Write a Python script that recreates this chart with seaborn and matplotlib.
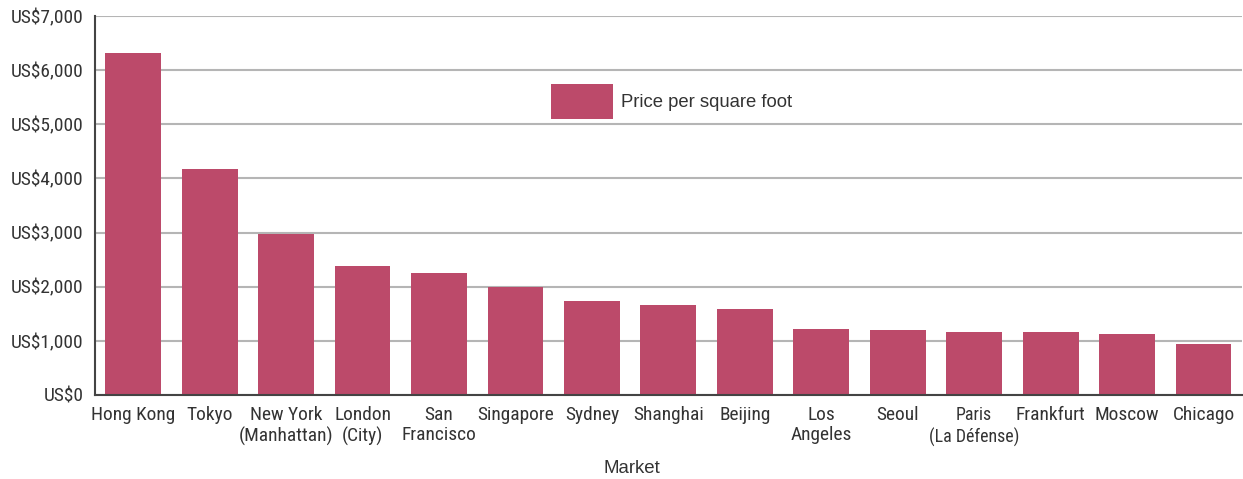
import matplotlib
matplotlib.use("Agg")
import matplotlib.pyplot as plt
import seaborn as sns
import pandas as pd
from matplotlib import font_manager as fm
from matplotlib.ticker import FixedLocator, FuncFormatter

markets = ["Hong Kong", "Tokyo", "New York\n(Manhattan)", "London\n(City)", "San\nFrancisco",
           "Singapore", "Sydney", "Shanghai", "Beijing", "Los\nAngeles", "Seoul",
           "Paris\n(La Défense)", "Frankfurt", "Moscow", "Chicago"]
prices = [6320, 4175, 2980, 2385, 2255, 1995, 1740, 1665, 1590, 1220, 1200, 1165, 1165, 1130, 945]
yticks = [0, 1000, 2000, 3000, 4000, 5000, 6000, 7000]
series_label = "Price per square foot"
xlabel = "Market"

bar_color = "#bc4a6a"
text_color = "#333333"

installed = {f.name for f in fm.fontManager.ttflist}
narrow_candidates = ["Nimbus Sans Narrow", "Liberation Sans Narrow", "Arial Narrow", "Roboto Condensed",
                     "Archivo Narrow", "PT Sans Narrow", "IBM Plex Sans Condensed", "Fira Sans Condensed",
                     "Pragati Narrow", "Open Sans Condensed", "Asap Condensed", "Encode Sans Condensed"]
narrow_name = next((n for n in narrow_candidates if n in installed), None)
narrow_stretch = "normal"
if narrow_name is None:
    narrow_name = "Open Sans" if "Open Sans" in installed else "DejaVu Sans"
    narrow_stretch = "condensed"
regular_candidates = ["Nimbus Sans", "Liberation Sans", "Arimo", "DejaVu Sans"]
regular_name = next((n for n in regular_candidates if n in installed), "DejaVu Sans")

sns.set_theme(style="white")
plt.rcParams["font.family"] = [regular_name, "DejaVu Sans"]

df = pd.DataFrame({"Market": markets, "Price": prices})

fig, ax = plt.subplots(figsize=(12.43, 4.79), dpi=100)
fig.subplots_adjust(left=0.0764, right=0.999, top=0.9666, bottom=0.1754)

# size the narrow font so "Hong Kong" spans about 84 px, close to the reference
renderer = fig.canvas.get_renderer()
probe = fig.text(0, 0, "Hong Kong", family=[narrow_name, "DejaVu Sans"], stretch=narrow_stretch, fontsize=14.5)
w = probe.get_window_extent(renderer).width
probe.remove()
tick_size = max(10.0, min(17.0, 14.5 * 84.0 / w))

sns.barplot(data=df, x="Market", y="Price", color=bar_color, saturation=1,
            width=0.73, ax=ax, linewidth=0)

ax.set_xlim(-0.5, len(markets) - 0.5)
ax.set_ylim(0, 7000)
ax.yaxis.set_major_locator(FixedLocator(yticks))
ax.yaxis.set_major_formatter(FuncFormatter(lambda v, p: f"US${int(v):,}"))
ax.grid(axis="y", color="#b5b5b5", linewidth=1.5)
ax.set_axisbelow(True)

for s in ["top", "right"]:
    ax.spines[s].set_visible(False)
for s in ["left", "bottom"]:
    ax.spines[s].set_color("#444444")
    ax.spines[s].set_linewidth(1.5)

ax.tick_params(axis="y", length=0, pad=8, labelsize=tick_size, labelcolor=text_color)
ax.tick_params(axis="x", which="major", length=0, pad=8, labelsize=tick_size, labelcolor=text_color)
ax.set_xticks([i + 0.5 for i in range(len(markets))], minor=True)
ax.tick_params(axis="x", which="minor", direction="in", length=6.5, width=1.2, color="#444444")
for lab in ax.get_xticklabels() + ax.get_yticklabels():
    lab.set_family([narrow_name, "DejaVu Sans"])
    lab.set_stretch(narrow_stretch)
    lab.set_linespacing(1.17)
# the widest two-line label is made a touch smaller so it does not run into its neighbour
for lab in ax.get_xticklabels():
    if "Défense" in lab.get_text():
        lab.set_fontsize(tick_size * 0.92)
        lab.set_linespacing(1.27)

ax.set_xlabel(xlabel, fontsize=13.4, color=text_color)
ax.set_ylabel("")
ax.xaxis.set_label_coords(0.468, -0.193)
ax.xaxis.label.set_va("center")

leg = ax.legend(handles=[ax.patches[0]], labels=[series_label], loc="upper left",
                bbox_to_anchor=(0.3976, 0.8206), frameon=False,
                borderpad=0, borderaxespad=0, handlelength=3.35, handleheight=2.54,
                handletextpad=0.45, fontsize=13.3)
for t in leg.get_texts():
    t.set_color(text_color)

fig.savefig("out.png", dpi=100)
